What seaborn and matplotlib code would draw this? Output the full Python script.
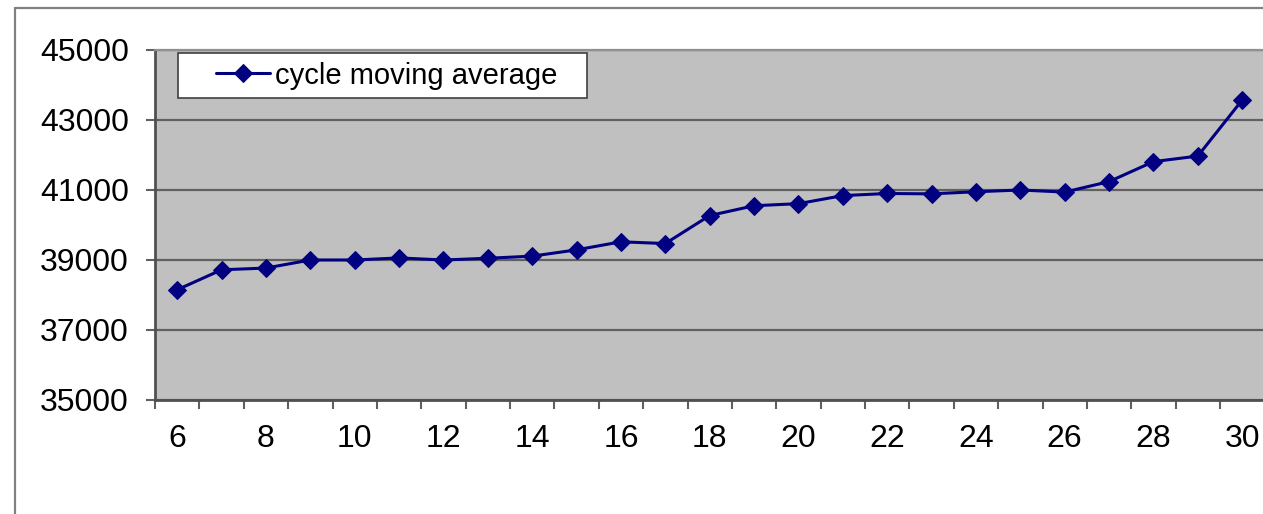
import matplotlib
matplotlib.use("Agg")
import matplotlib.pyplot as plt
from matplotlib.lines import Line2D
from matplotlib.patches import Rectangle
import seaborn as sns
import pandas as pd

# Cycle numbers and their moving average
cycles = list(range(6, 31))
moving_avg = [38150, 38720, 38770, 39000, 39000, 39060, 39000, 39050, 39110, 39290,
              39520, 39470, 40270, 40550, 40610, 40840, 40900, 40890, 40950, 41000,
              40940, 41240, 41810, 41970, 43570]
y_ticks = [35000, 37000, 39000, 41000, 43000, 45000]
x_tick_labels = list(range(6, 31, 2))
series_name = "cycle moving average"

df = pd.DataFrame({"cycle": cycles, "value": moving_avg})

sns.set_style("white")
plt.rcParams["font.family"] = ["Liberation Sans", "DejaVu Sans"]
plt.rcParams["text.color"] = "black"
plt.rcParams["xtick.color"] = "black"
plt.rcParams["ytick.color"] = "black"

W, H = 1263, 514
PT = 0.72  # points per pixel at 100 dpi
fig = plt.figure(figsize=(W / 100, H / 100), dpi=100)
fig.patch.set_facecolor("white")

# Plot area: left edge 155 px, top 50 px, bottom 400 px, 44.4 px per cycle
px_per_cat = 44.375
left_px, top_px, bottom_px = 155, 50, 400
width_px = px_per_cat * 25
height_px = bottom_px - top_px
ax = fig.add_axes([left_px / W, (H - bottom_px) / H, width_px / W, height_px / H])
ax.set_facecolor("#C0C0C0")

sns.lineplot(data=df, x="cycle", y="value", ax=ax, color="#000080", linewidth=2.2,
             marker="D", markersize=9, markeredgecolor="#000080", label=series_name,
             clip_on=False)

ax.set_xlim(5.5, 30.5)
ax.set_ylim(35000, 45000)
ax.set_yticks(y_ticks)
ax.set_yticklabels([str(v) for v in y_ticks], fontsize=23)
ax.yaxis.grid(True, color="#606060", linewidth=1.6)
ax.set_axisbelow(True)

# Tick marks sit between categories; labels on every other category
ax.set_xticks([c + 0.5 for c in cycles[:-1]] + [5.5])
ax.set_xticklabels([])
ax.set_xticks(x_tick_labels, minor=True)
ax.set_xticklabels([str(v) for v in x_tick_labels], minor=True, fontsize=23)
ax.tick_params(axis="x", which="major", direction="out", length=9 * PT, width=1.5,
               color="#606060", bottom=True)
ax.tick_params(axis="x", which="minor", length=0, pad=(9 + 15) * PT)
ax.tick_params(axis="y", direction="out", length=9 * PT, width=1.5, color="#606060",
               left=True, pad=17 * PT)
ax.set_xlabel("")
ax.set_ylabel("")

for side in ["left", "bottom"]:
    ax.spines[side].set_color("#505050")
    ax.spines[side].set_linewidth(2)
ax.spines["top"].set_color("#909090")
ax.spines["top"].set_linewidth(1.6)
ax.spines["right"].set_visible(False)

# Legend box with its own padding, entry placed inside it
legend_box = Rectangle((178 / W, 1 - 98 / H), (587 - 178) / W, 45 / H,
                       transform=fig.transFigure, facecolor="white",
                       edgecolor="#404040", linewidth=1.2, zorder=4)
fig.add_artist(legend_box)
leg = ax.legend(loc="center left",
                bbox_to_anchor=((216 - left_px) / width_px, 1 - (75.5 - top_px) / height_px),
                frameon=False, fontsize=21, handlelength=1.85, borderpad=0,
                handletextpad=0.17, borderaxespad=0)
leg.set_zorder(5)
fig.add_artist(leg)

# Outer chart frame (left and top edges visible)
fig.add_artist(Line2D([15 / W, 15 / W], [0, 1 - 8 / H], transform=fig.transFigure,
                      color="#808080", linewidth=1.6))
fig.add_artist(Line2D([15 / W, 1], [1 - 8 / H, 1 - 8 / H], transform=fig.transFigure,
                      color="#808080", linewidth=1.6))

fig.savefig("out.png", dpi=100)
